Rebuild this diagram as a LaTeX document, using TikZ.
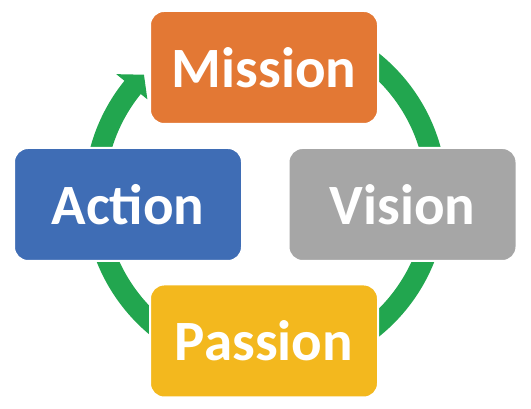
\documentclass[tikz,border=0pt]{standalone}
\usepackage{fontspec}
\setmainfont{Carlito}
\definecolor{mOrange}{HTML}{E37834}
\definecolor{vGray}{HTML}{A6A6A6}
\definecolor{aBlue}{HTML}{3F6DB5}
\definecolor{pYellow}{HTML}{F3B81E}
\definecolor{rGreen}{HTML}{22A64F}
\begin{document}
\begin{tikzpicture}[x=1pt,y=1pt,
  box/.style={rounded corners=14pt, draw=white, line width=2pt,
    minimum width=228pt, minimum height=113pt, inner sep=0pt,
    text=white, font=\fontsize{57}{62}\selectfont\bfseries},
  ring/.style={draw=rGreen, line width=21pt, line cap=butt},
  ringhead/.style={fill=rGreen, draw=none}]
\useasboundingbox (0,0) rectangle (531,409);
\coordinate (c) at (265.5,214);
% ring (clockwise) ending in an arrowhead near Mission
\draw[ring] ([shift={(90:171)}]c) arc[start angle=90, end angle=-219.3, radius=171];
\fill[ringhead] ([shift={(141:192)}]c) -- ([shift={(135.3:171)}]c) -- ([shift={(141:152)}]c) -- cycle;
% boxes
\node[box, fill=mOrange] (mission) at (264,341.5) {Mission};
\node[box, fill=vGray] (vision) at (402.5,204.5) {Vision};
\node[box, fill=aBlue] (action) at (128,204.5) {Action};
\node[box, fill=pYellow] (passion) at (264,68) {Passion};
\end{tikzpicture}
\end{document}
